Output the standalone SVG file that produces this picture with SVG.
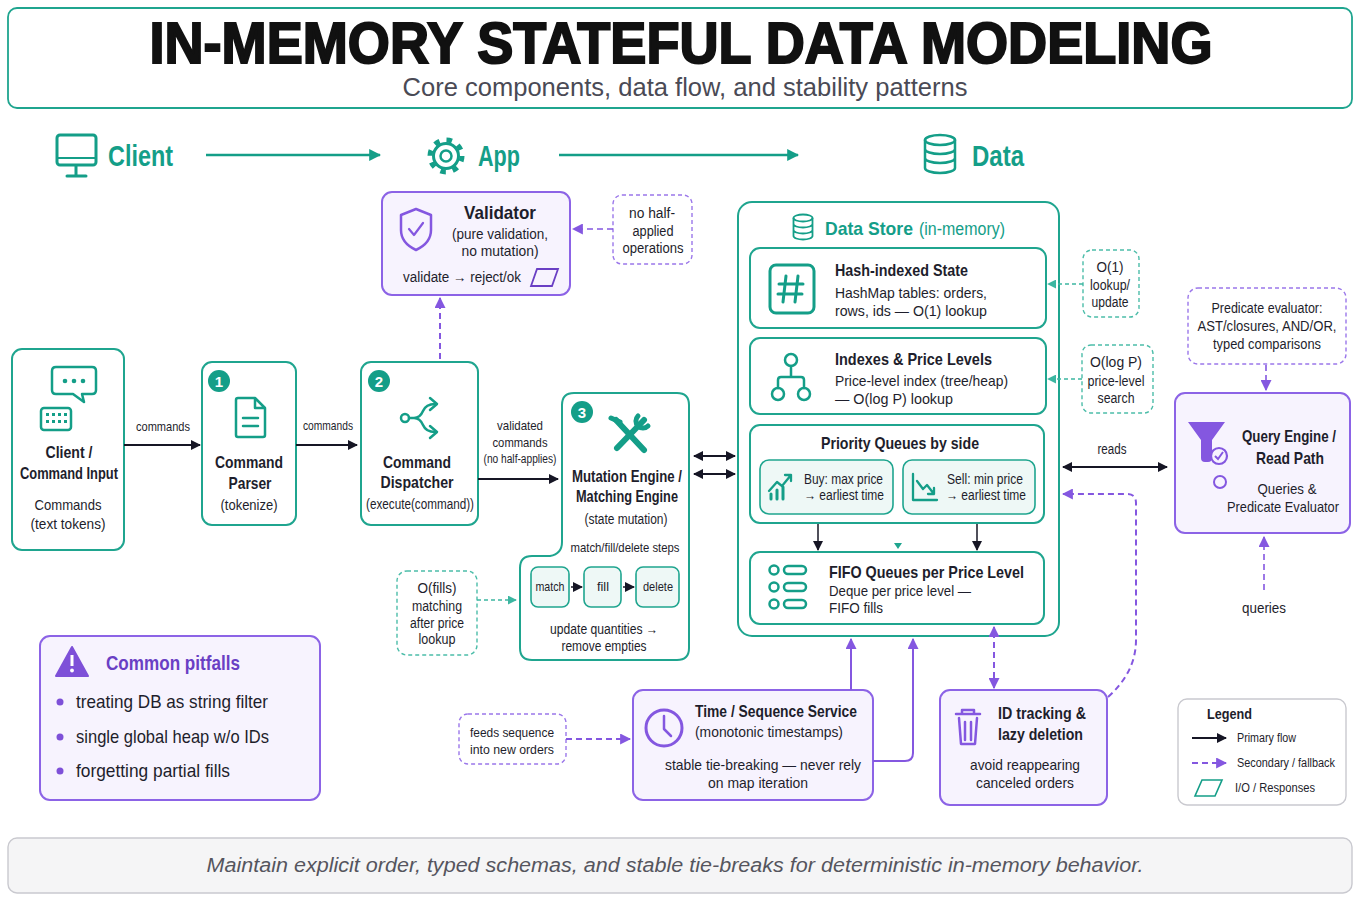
<svg xmlns="http://www.w3.org/2000/svg" width="1360" height="907" viewBox="0 0 1360 907">
<style>
text{font-family:"Liberation Sans",Arial,sans-serif;fill:#1e1e2c}
.b{font-weight:bold}
.c{text-anchor:middle}
.tl{fill:#149e88}
.pu{fill:#6a3fc4}
.tbox{fill:#fff;stroke:#1fa58f;stroke-width:2}
.tfill{fill:#eef8f6;stroke:#1fa58f;stroke-width:1.6}
.pbox{fill:#f7f3fe;stroke:#8c63e6;stroke-width:2}
.tdash{fill:#fff;stroke:#4cbda9;stroke-width:1.4;stroke-dasharray:4 3}
.pdash{fill:#fff;stroke:#9b77ea;stroke-width:1.4;stroke-dasharray:4 3}
.ic{fill:none;stroke:#149e88;stroke-width:3;stroke-linecap:round;stroke-linejoin:round}
.ip{fill:none;stroke:#8457e0;stroke-width:3;stroke-linecap:round;stroke-linejoin:round}
.k{fill:none;stroke:#161625;stroke-width:2}
.kt{fill:none;stroke:#149e88;stroke-width:2.5}
.pl{fill:none;stroke:#8457e0;stroke-width:2}
.pd{fill:none;stroke:#8457e0;stroke-width:2;stroke-dasharray:6 4}
.td{fill:none;stroke:#3cb6a1;stroke-width:1.5;stroke-dasharray:4 3}
</style>
<defs>
<marker id="ak" viewBox="0 0 10 10" refX="9" refY="5" markerWidth="10" markerHeight="10" markerUnits="userSpaceOnUse" orient="auto-start-reverse"><path d="M0,0 L10,5 L0,10 z" fill="#161625"/></marker>
<marker id="at" viewBox="0 0 10 10" refX="9" refY="5" markerWidth="12" markerHeight="12" markerUnits="userSpaceOnUse" orient="auto-start-reverse"><path d="M0,0 L10,5 L0,10 z" fill="#149e88"/></marker>
<marker id="ats" viewBox="0 0 10 10" refX="9" refY="5" markerWidth="9" markerHeight="9" markerUnits="userSpaceOnUse" orient="auto-start-reverse"><path d="M0,0 L10,5 L0,10 z" fill="#3cb6a1"/></marker>
<marker id="ap" viewBox="0 0 10 10" refX="9" refY="5" markerWidth="11" markerHeight="11" markerUnits="userSpaceOnUse" orient="auto-start-reverse"><path d="M0,0 L10,5 L0,10 z" fill="#8457e0"/></marker>
</defs>

<g id="header">
<rect x="8" y="8" width="1344" height="100" rx="9" fill="#fff" stroke="#1fa58f" stroke-width="1.8"/>
<text x="681" y="63" class="b c" font-size="57" textLength="1063" lengthAdjust="spacingAndGlyphs" style="fill:#111;stroke:#111;stroke-width:2">IN-MEMORY STATEFUL DATA MODELING</text>
<text x="685" y="96" class="c" font-size="25" textLength="565" lengthAdjust="spacingAndGlyphs" style="fill:#4a4a55">Core components, data flow, and stability patterns</text>
</g>

<g id="lanes">
<rect x="57" y="135" width="39" height="30" rx="3" class="ic"/>
<line x1="58" y1="158" x2="95" y2="158" class="ic" style="stroke-width:2"/>
<line x1="76" y1="166" x2="76" y2="175" class="ic"/>
<line x1="67" y1="176" x2="86" y2="176" class="ic"/>
<text x="108" y="166" class="b tl" font-size="30" textLength="65" lengthAdjust="spacingAndGlyphs">Client</text>
<circle cx="446" cy="156" r="12.5" class="ic"/>
<circle cx="446" cy="156" r="16" fill="none" stroke="#149e88" stroke-width="5" stroke-dasharray="5.5 7.07"/>
<circle cx="446" cy="156" r="5.5" class="ic" style="stroke-width:2.5"/>
<text x="478" y="166" class="b tl" font-size="30" textLength="42" lengthAdjust="spacingAndGlyphs">App</text>
<ellipse cx="940" cy="140" rx="15" ry="5" class="ic" style="stroke-width:2.5"/>
<path d="M925,140 V168 A15,5 0 0 0 955,168 V140 M925,149 A15,5 0 0 0 955,149 M925,158 A15,5 0 0 0 955,158" class="ic" style="stroke-width:2.5"/>
<text x="972" y="166" class="b tl" font-size="30" textLength="52" lengthAdjust="spacingAndGlyphs">Data</text>
</g>

<g id="client">
<rect x="12" y="349" width="112" height="201" rx="10" class="tbox"/>
<path d="M56,367 H92 Q96,367 96,371 V390 Q96,394 92,394 H82 L84,402 L73,394 H56 Q52,394 52,390 V371 Q52,367 56,367 Z" class="ic" style="stroke-width:2.5"/>
<circle cx="65" cy="381" r="2.3" fill="#149e88"/><circle cx="74" cy="381" r="2.3" fill="#149e88"/><circle cx="83" cy="381" r="2.3" fill="#149e88"/>
<rect x="41" y="408" width="30" height="22" rx="3" class="ic" style="stroke-width:2.5"/>
<g fill="#149e88"><rect x="46" y="413" width="3" height="3"/><rect x="52" y="413" width="3" height="3"/><rect x="58" y="413" width="3" height="3"/><rect x="64" y="413" width="3" height="3"/><rect x="46" y="420" width="3" height="3"/><rect x="52" y="420" width="3" height="3"/><rect x="58" y="420" width="3" height="3"/><rect x="64" y="420" width="3" height="3"/></g>
<text x="69" y="458" class="b c" font-size="17" textLength="47" lengthAdjust="spacingAndGlyphs">Client /</text>
<text x="69" y="479" class="b c" font-size="17" textLength="98" lengthAdjust="spacingAndGlyphs">Command Input</text>
<text x="68" y="510" class="c" font-size="15" textLength="67" lengthAdjust="spacingAndGlyphs">Commands</text>
<text x="68" y="529" class="c" font-size="15" textLength="75" lengthAdjust="spacingAndGlyphs">(text tokens)</text>
</g>

<g id="parser">
<rect x="202" y="362" width="94" height="163" rx="10" class="tbox"/>
<circle cx="219" cy="381" r="11" fill="#149e88"/>
<text x="219" y="387" class="b c" font-size="15" style="fill:#fff">1</text>
<path d="M238,398 H255 L265,408 V435 Q265,437 263,437 H238 Q236,437 236,435 V400 Q236,398 238,398 Z M255,398 V408 H265" class="ic" style="stroke-width:2.5"/>
<line x1="243" y1="418" x2="258" y2="418" class="ic" style="stroke-width:2.5"/>
<line x1="243" y1="426" x2="258" y2="426" class="ic" style="stroke-width:2.5"/>
<text x="249" y="468" class="b c" font-size="17" textLength="68" lengthAdjust="spacingAndGlyphs">Command</text>
<text x="250" y="489" class="b c" font-size="17" textLength="43" lengthAdjust="spacingAndGlyphs">Parser</text>
<text x="249" y="510" class="c" font-size="14" textLength="57" lengthAdjust="spacingAndGlyphs">(tokenize)</text>
</g>

<g id="dispatcher">
<rect x="361" y="362" width="117" height="163" rx="10" class="tbox"/>
<circle cx="379" cy="381" r="11" fill="#149e88"/>
<text x="379" y="387" class="b c" font-size="15" style="fill:#fff">2</text>
<circle cx="405" cy="418" r="4" class="ic" style="stroke-width:2.5"/>
<path d="M409,418 H414 Q420,418 423,411 Q426,404 435,404 M414,418 Q420,418 423,425 Q426,432 435,432" class="ic" style="stroke-width:2.5"/>
<path d="M430,398 L437,404 L430,410 M430,426 L437,432 L430,438" class="ic" style="stroke-width:2.5"/>
<text x="417" y="468" class="b c" font-size="17" textLength="68" lengthAdjust="spacingAndGlyphs">Command</text>
<text x="417" y="488" class="b c" font-size="17" textLength="73" lengthAdjust="spacingAndGlyphs">Dispatcher</text>
<text x="420" y="509" class="c" font-size="14" textLength="108" lengthAdjust="spacingAndGlyphs">(execute(command))</text>
</g>

<g id="validator">
<rect x="382" y="192" width="188" height="103" rx="10" class="pbox"/>
<path d="M416,209 L431,215 V230 Q431,243 416,250 Q401,243 401,230 V215 Z" class="ip" style="stroke-width:2.5"/>
<path d="M409,229 L414,235 L423,223" class="ip" style="stroke-width:2.2"/>
<text x="500" y="219" class="b c" font-size="19" textLength="72" lengthAdjust="spacingAndGlyphs">Validator</text>
<text x="500" y="239" class="c" font-size="15" textLength="96" lengthAdjust="spacingAndGlyphs">(pure validation,</text>
<text x="500" y="256" class="c" font-size="15" textLength="77" lengthAdjust="spacingAndGlyphs">no mutation)</text>
<text x="462" y="282" class="c" font-size="14" textLength="118" lengthAdjust="spacingAndGlyphs">validate → reject/ok</text>
<path d="M537,269 H558 L552,286 H531 Z" fill="none" stroke="#6a3fc4" stroke-width="1.8"/>
</g>

<g id="note-halfapplied">
<rect x="613" y="195" width="79" height="69" rx="9" class="pdash"/>
<text x="652" y="218" class="c" font-size="14" textLength="46" lengthAdjust="spacingAndGlyphs">no half-</text>
<text x="653" y="236" class="c" font-size="14" textLength="41" lengthAdjust="spacingAndGlyphs">applied</text>
<text x="653" y="253" class="c" font-size="14" textLength="61" lengthAdjust="spacingAndGlyphs">operations</text>
</g>

<g id="mutation">
<path d="M574,393 H677 Q689,393 689,405 V648 Q689,660 677,660 H532 Q520,660 520,648 V568 Q520,556 532,556 H550 Q562,554 562,542 V405 Q562,393 574,393 Z" class="tbox"/>
<circle cx="582" cy="412" r="11" fill="#149e88"/>
<text x="582" y="418" class="b c" font-size="15" style="fill:#fff">3</text>
<g stroke="#149e88" stroke-linecap="round" fill="none">
<line x1="616" y1="420" x2="644" y2="450" stroke-width="6"/>
<line x1="644" y1="420" x2="617" y2="448" stroke-width="6"/>
<path d="M638,416 A7,7 0 1 0 648,426" stroke-width="5"/>
<path d="M611,418 L620,422" stroke-width="5"/>
</g>
<text x="627" y="482" class="b c" font-size="17" textLength="110" lengthAdjust="spacingAndGlyphs">Mutation Engine /</text>
<text x="627" y="502" class="b c" font-size="17" textLength="102" lengthAdjust="spacingAndGlyphs">Matching Engine</text>
<text x="626" y="524" class="c" font-size="14" textLength="83" lengthAdjust="spacingAndGlyphs">(state mutation)</text>
<text x="625" y="552" class="c" font-size="13" textLength="109" lengthAdjust="spacingAndGlyphs">match/fill/delete steps</text>
<rect x="531" y="567" width="38" height="40" rx="7" class="tfill"/>
<rect x="584" y="567" width="37" height="40" rx="7" class="tfill"/>
<rect x="636" y="567" width="43" height="40" rx="7" class="tfill"/>
<text x="550" y="591" class="c" font-size="13" textLength="29" lengthAdjust="spacingAndGlyphs">match</text>
<text x="603" y="591" class="c" font-size="13" textLength="12" lengthAdjust="spacingAndGlyphs">fill</text>
<text x="658" y="591" class="c" font-size="13" textLength="30" lengthAdjust="spacingAndGlyphs">delete</text>
<line x1="571" y1="587" x2="582" y2="587" class="k" style="stroke-width:1.5" marker-end="url(#ak)"/>
<line x1="623" y1="587" x2="634" y2="587" class="k" style="stroke-width:1.5" marker-end="url(#ak)"/>
<text x="604" y="634" class="c" font-size="14" textLength="108" lengthAdjust="spacingAndGlyphs">update quantities →</text>
<text x="604" y="651" class="c" font-size="14" textLength="85" lengthAdjust="spacingAndGlyphs">remove empties</text>
</g>

<g id="note-fills">
<rect x="397" y="571" width="80" height="84" rx="10" class="tdash"/>
<text x="437" y="593" class="c" font-size="15" textLength="39" lengthAdjust="spacingAndGlyphs">O(fills)</text>
<text x="437" y="611" class="c" font-size="14" textLength="50" lengthAdjust="spacingAndGlyphs">matching</text>
<text x="437" y="628" class="c" font-size="14" textLength="54" lengthAdjust="spacingAndGlyphs">after price</text>
<text x="437" y="644" class="c" font-size="14" textLength="37" lengthAdjust="spacingAndGlyphs">lookup</text>
</g>

<g id="datastore">
<rect x="738" y="202" width="321" height="434" rx="14" class="tbox"/>
<ellipse cx="803" cy="218" rx="9.5" ry="3.5" fill="none" stroke="#149e88" stroke-width="1.8"/>
<path d="M793.5,218 V236 A9.5,3.5 0 0 0 812.5,236 V218 M793.5,224 A9.5,3.5 0 0 0 812.5,224 M793.5,230 A9.5,3.5 0 0 0 812.5,230" fill="none" stroke="#149e88" stroke-width="1.8"/>
<text x="825" y="235" class="b tl" font-size="19" textLength="88" lengthAdjust="spacingAndGlyphs">Data Store</text>
<text x="919" y="235" class="tl" font-size="18" textLength="86" lengthAdjust="spacingAndGlyphs">(in-memory)</text>
</g>

<g id="hash">
<rect x="750" y="248" width="296" height="80" rx="10" class="tbox"/>
<rect x="770" y="265" width="44" height="48" rx="6" class="ic"/>
<path d="M786,276 L783,302 M798,276 L795,302 M779,284 H803 M778,294 H802" class="ic" style="stroke-width:3"/>
<text x="835" y="276" class="b" font-size="17" textLength="133" lengthAdjust="spacingAndGlyphs">Hash-indexed State</text>
<text x="835" y="298" font-size="15" textLength="152" lengthAdjust="spacingAndGlyphs">HashMap tables: orders,</text>
<text x="835" y="316" font-size="15" textLength="152" lengthAdjust="spacingAndGlyphs">rows, ids — O(1) lookup</text>
</g>

<g id="indexes">
<rect x="750" y="338" width="296" height="76" rx="10" class="tbox"/>
<circle cx="791" cy="360" r="6" class="ic" style="stroke-width:2.5"/>
<path d="M791,366 V377 M778,388 V380 Q778,377 781,377 H801 Q804,377 804,380 V388" class="ic" style="stroke-width:2.5"/>
<circle cx="778" cy="394" r="6" class="ic" style="stroke-width:2.5"/>
<circle cx="804" cy="394" r="6" class="ic" style="stroke-width:2.5"/>
<text x="835" y="365" class="b" font-size="17" textLength="157" lengthAdjust="spacingAndGlyphs">Indexes &amp; Price Levels</text>
<text x="835" y="386" font-size="15" textLength="173" lengthAdjust="spacingAndGlyphs">Price-level index (tree/heap)</text>
<text x="835" y="404" font-size="15" textLength="118" lengthAdjust="spacingAndGlyphs">— O(log P) lookup</text>
</g>

<g id="pq">
<rect x="750" y="425" width="294" height="98" rx="10" class="tbox"/>
<text x="900" y="449" class="b c" font-size="17" textLength="158" lengthAdjust="spacingAndGlyphs">Priority Queues by side</text>
<rect x="760" y="460" width="133" height="54" rx="9" class="tfill"/>
<path d="M769,491 L777,482 L782,486 L791,475 M785,475 H791 V481" class="ic" style="stroke-width:2.3"/>
<path d="M771,499 V494 M777,499 V490 M783,499 V487" class="ic" style="stroke-width:3"/>
<text x="804" y="484" font-size="14" textLength="79" lengthAdjust="spacingAndGlyphs">Buy: max price</text>
<text x="804" y="500" font-size="14" textLength="80" lengthAdjust="spacingAndGlyphs">→ earliest time</text>
<rect x="903" y="460" width="132" height="54" rx="9" class="tfill"/>
<path d="M913,474 V500 H937" class="ic" style="stroke-width:2.3"/>
<path d="M917,481 L923,489 L927,485 L934,494 M928,494 H934 V488" class="ic" style="stroke-width:2.3"/>
<text x="947" y="484" font-size="14" textLength="76" lengthAdjust="spacingAndGlyphs">Sell: min price</text>
<text x="946" y="500" font-size="14" textLength="80" lengthAdjust="spacingAndGlyphs">→ earliest time</text>
</g>

<g id="fifo">
<rect x="750" y="552" width="294" height="72" rx="10" class="tbox"/>
<g class="ic" style="stroke-width:2.5">
<circle cx="774" cy="570" r="4.5"/><rect x="784" y="566" width="22" height="8" rx="4"/>
<circle cx="774" cy="587" r="4.5"/><rect x="784" y="583" width="22" height="8" rx="4"/>
<circle cx="774" cy="604" r="4.5"/><rect x="784" y="600" width="22" height="8" rx="4"/>
</g>
<text x="829" y="578" class="b" font-size="17" textLength="195" lengthAdjust="spacingAndGlyphs">FIFO Queues per Price Level</text>
<text x="829" y="596" font-size="15" textLength="142" lengthAdjust="spacingAndGlyphs">Deque per price level —</text>
<text x="829" y="613" font-size="15" textLength="54" lengthAdjust="spacingAndGlyphs">FIFO fills</text>
</g>

<g id="note-o1">
<rect x="1083" y="250" width="56" height="67" rx="9" class="tdash"/>
<text x="1110" y="272" class="c" font-size="15" textLength="27" lengthAdjust="spacingAndGlyphs">O(1)</text>
<text x="1110" y="290" class="c" font-size="14" textLength="40" lengthAdjust="spacingAndGlyphs">lookup/</text>
<text x="1110" y="307" class="c" font-size="14" textLength="37" lengthAdjust="spacingAndGlyphs">update</text>
</g>
<g id="note-ologp">
<rect x="1082" y="345" width="71" height="68" rx="9" class="tdash"/>
<text x="1116" y="367" class="c" font-size="15" textLength="52" lengthAdjust="spacingAndGlyphs">O(log P)</text>
<text x="1116" y="386" class="c" font-size="14" textLength="57" lengthAdjust="spacingAndGlyphs">price-level</text>
<text x="1116" y="403" class="c" font-size="14" textLength="37" lengthAdjust="spacingAndGlyphs">search</text>
</g>

<g id="note-predicate">
<rect x="1188" y="288" width="158" height="76" rx="10" class="pdash"/>
<text x="1267" y="313" class="c" font-size="14" textLength="111" lengthAdjust="spacingAndGlyphs">Predicate evaluator:</text>
<text x="1267" y="331" class="c" font-size="14" textLength="139" lengthAdjust="spacingAndGlyphs">AST/closures, AND/OR,</text>
<text x="1267" y="349" class="c" font-size="14" textLength="108" lengthAdjust="spacingAndGlyphs">typed comparisons</text>
</g>

<g id="query">
<rect x="1175" y="393" width="175" height="140" rx="10" class="pbox"/>
<path d="M1188,422 H1225 L1212,440 V458 Q1212,462 1208,462 H1205 Q1201,462 1201,458 V440 Z" fill="#8457e0"/>
<circle cx="1219" cy="456" r="8" fill="#f7f3fe" stroke="#8457e0" stroke-width="2.2"/>
<path d="M1215,456 L1218,459 L1223,452" fill="none" stroke="#8457e0" stroke-width="2"/>
<circle cx="1220" cy="482" r="6" fill="none" stroke="#8457e0" stroke-width="2"/>
<text x="1289" y="442" class="b c" font-size="17" textLength="94" lengthAdjust="spacingAndGlyphs">Query Engine /</text>
<text x="1290" y="464" class="b c" font-size="17" textLength="68" lengthAdjust="spacingAndGlyphs">Read Path</text>
<text x="1287" y="494" class="c" font-size="15" textLength="59" lengthAdjust="spacingAndGlyphs">Queries &amp;</text>
<text x="1283" y="512" class="c" font-size="15" textLength="112" lengthAdjust="spacingAndGlyphs">Predicate Evaluator</text>
</g>
<text x="1264" y="613" class="c" font-size="14" textLength="44" lengthAdjust="spacingAndGlyphs">queries</text>

<g id="timeseq">
<rect x="633" y="690" width="240" height="110" rx="10" class="pbox"/>
<circle cx="664" cy="728" r="18" class="ip"/>
<path d="M664,716 V729 L671,736" class="ip" style="stroke-width:2.5"/>
<text x="695" y="717" class="b" font-size="17" textLength="162" lengthAdjust="spacingAndGlyphs">Time / Sequence Service</text>
<text x="695" y="737" font-size="15" textLength="148" lengthAdjust="spacingAndGlyphs">(monotonic timestamps)</text>
<text x="763" y="770" class="c" font-size="15" textLength="196" lengthAdjust="spacingAndGlyphs">stable tie-breaking — never rely</text>
<text x="758" y="788" class="c" font-size="15" textLength="100" lengthAdjust="spacingAndGlyphs">on map iteration</text>
</g>

<g id="note-feeds">
<rect x="459" y="714" width="107" height="50" rx="9" class="pdash"/>
<text x="512" y="737" class="c" font-size="13" textLength="84" lengthAdjust="spacingAndGlyphs">feeds sequence</text>
<text x="512" y="754" class="c" font-size="13" textLength="84" lengthAdjust="spacingAndGlyphs">into new orders</text>
</g>

<g id="idtrack">
<rect x="940" y="690" width="167" height="115" rx="10" class="pbox"/>
<path d="M956,714 H980 M962,714 V710 H974 V714 M959,718 L961,744 H975 L977,718 M965,722 V740 M971,722 V740" class="ip" style="stroke-width:2.5"/>
<text x="998" y="719" class="b" font-size="17" textLength="88" lengthAdjust="spacingAndGlyphs">ID tracking &amp;</text>
<text x="998" y="740" class="b" font-size="17" textLength="85" lengthAdjust="spacingAndGlyphs">lazy deletion</text>
<text x="1025" y="770" class="c" font-size="15" textLength="110" lengthAdjust="spacingAndGlyphs">avoid reappearing</text>
<text x="1025" y="788" class="c" font-size="15" textLength="98" lengthAdjust="spacingAndGlyphs">canceled orders</text>
</g>

<g id="pitfalls">
<rect x="40" y="636" width="280" height="164" rx="10" class="pbox"/>
<path d="M72,647 L88,676 H56 Z" fill="#7e50d8" stroke="#7e50d8" stroke-width="2" stroke-linejoin="round"/>
<rect x="70.5" y="655" width="3" height="11" fill="#fff"/>
<circle cx="72" cy="670.5" r="1.9" fill="#fff"/>
<text x="106" y="670" class="b pu" font-size="21" textLength="134" lengthAdjust="spacingAndGlyphs">Common pitfalls</text>
<circle cx="60" cy="702" r="3.5" fill="#7e50d8"/>
<circle cx="60" cy="737" r="3.5" fill="#7e50d8"/>
<circle cx="60" cy="771" r="3.5" fill="#7e50d8"/>
<text x="76" y="708" font-size="19" textLength="192" lengthAdjust="spacingAndGlyphs">treating DB as string filter</text>
<text x="76" y="743" font-size="19" textLength="193" lengthAdjust="spacingAndGlyphs">single global heap w/o IDs</text>
<text x="76" y="777" font-size="19" textLength="154" lengthAdjust="spacingAndGlyphs">forgetting partial fills</text>
</g>

<g id="legend">
<rect x="1178" y="699" width="168" height="106" rx="9" fill="#fff" stroke="#c9c9cf" stroke-width="1.4"/>
<text x="1207" y="719" class="b" font-size="15" textLength="45" lengthAdjust="spacingAndGlyphs">Legend</text>
<line x1="1192" y1="738" x2="1226" y2="738" class="k" marker-end="url(#ak)"/>
<text x="1237" y="742" font-size="12" textLength="59" lengthAdjust="spacingAndGlyphs">Primary flow</text>
<line x1="1192" y1="763" x2="1226" y2="763" class="pd" marker-end="url(#ap)"/>
<text x="1237" y="767" font-size="12" textLength="98" lengthAdjust="spacingAndGlyphs">Secondary / fallback</text>
<path d="M1202,780 H1222 L1215,796 H1195 Z" fill="none" stroke="#149e88" stroke-width="1.6"/>
<text x="1235" y="792" font-size="12" textLength="80" lengthAdjust="spacingAndGlyphs">I/O / Responses</text>
</g>

<g id="footer">
<rect x="8" y="838" width="1344" height="55" rx="9" fill="#f5f5f6" stroke="#c9c9cf" stroke-width="1.4"/>
<text x="675" y="872" class="c" font-size="20" font-style="italic" textLength="937" lengthAdjust="spacingAndGlyphs" style="fill:#55555e">Maintain explicit order, typed schemas, and stable tie-breaks for deterministic in-memory behavior.</text>
</g>

<g id="connectors">
<line x1="206" y1="155" x2="380" y2="155" class="kt" marker-end="url(#at)"/>
<line x1="559" y1="155" x2="798" y2="155" class="kt" marker-end="url(#at)"/>
<line x1="124" y1="445" x2="200" y2="445" class="k" marker-end="url(#ak)"/>
<text x="163" y="431" class="c" font-size="13" textLength="54" lengthAdjust="spacingAndGlyphs">commands</text>
<line x1="296" y1="445" x2="357" y2="445" class="k" marker-end="url(#ak)"/>
<text x="328" y="430" class="c" font-size="13" textLength="50" lengthAdjust="spacingAndGlyphs">commands</text>
<line x1="478" y1="479" x2="558" y2="479" class="k" marker-end="url(#ak)"/>
<text x="520" y="430" class="c" font-size="13" textLength="46" lengthAdjust="spacingAndGlyphs">validated</text>
<text x="520" y="447" class="c" font-size="13" textLength="55" lengthAdjust="spacingAndGlyphs">commands</text>
<text x="520" y="463" class="c" font-size="12" textLength="73" lengthAdjust="spacingAndGlyphs">(no half-applies)</text>
<line x1="440" y1="359" x2="440" y2="298" class="pd" marker-end="url(#ap)"/>
<line x1="613" y1="229" x2="573" y2="229" class="pd" style="stroke-width:1.6" marker-end="url(#ap)"/>
<line x1="477" y1="600" x2="516" y2="600" class="td" marker-end="url(#ats)"/>
<line x1="694" y1="456" x2="735" y2="456" class="k" marker-start="url(#ak)" marker-end="url(#ak)"/>
<line x1="694" y1="474" x2="735" y2="474" class="k" marker-start="url(#ak)" marker-end="url(#ak)"/>
<line x1="1083" y1="284" x2="1048" y2="284" class="td" marker-end="url(#ats)"/>
<line x1="1082" y1="379" x2="1048" y2="379" class="td" marker-end="url(#ats)"/>
<line x1="818" y1="524" x2="818" y2="550" class="k" style="stroke-width:1.5" marker-end="url(#ak)"/>
<line x1="977" y1="524" x2="977" y2="550" class="k" style="stroke-width:1.5" marker-end="url(#ak)"/>
<path d="M894,543 H902 L898,549 Z" fill="#1fa58f"/>
<line x1="1063" y1="467" x2="1167" y2="467" class="k" style="stroke-width:2.2" marker-start="url(#ak)" marker-end="url(#ak)"/>
<text x="1112" y="454" class="c" font-size="14" textLength="29" lengthAdjust="spacingAndGlyphs">reads</text>
<path d="M1108,697 Q1136,672 1136,640 V503 Q1136,494 1127,494 H1063" class="pd" marker-end="url(#ap)"/>
<line x1="1266" y1="365" x2="1266" y2="390" class="pd" style="stroke-width:1.6" marker-end="url(#ap)"/>
<line x1="1264" y1="590" x2="1264" y2="537" class="pd" style="stroke-width:1.6" marker-end="url(#ap)"/>
<line x1="851" y1="690" x2="851" y2="639" class="pl" marker-end="url(#ap)"/>
<path d="M873,761 H905 Q913,761 913,753 V639" class="pl" marker-end="url(#ap)"/>
<line x1="994" y1="688" x2="994" y2="627" class="pd" marker-start="url(#ap)" marker-end="url(#ap)"/>
<line x1="566" y1="739" x2="630" y2="739" class="pd" marker-end="url(#ap)"/>
</g>
</svg>
